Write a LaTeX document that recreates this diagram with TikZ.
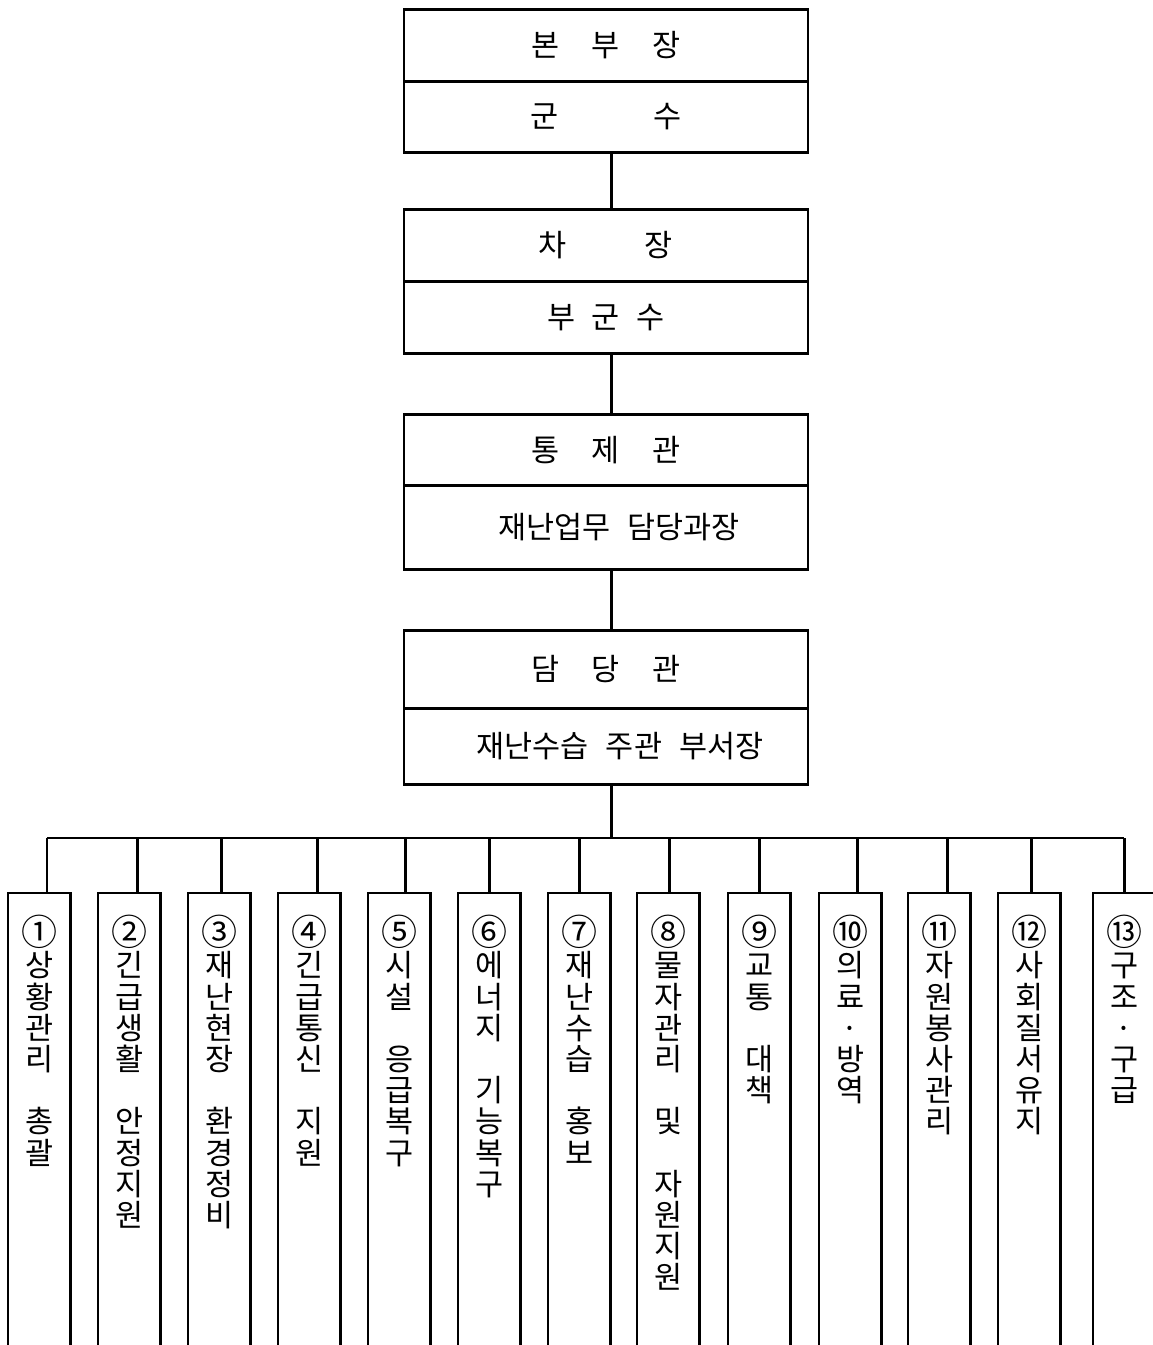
\documentclass[tikz,border=0pt]{standalone}
\usepackage{fontspec}
\newfontfamily\kr{Noto Sans CJK KR}
\newcommand\gap{\mbox{}}
\newcommand\cn[1]{{\fontsize{36}{31}\selectfont #1}}
\begin{document}
\begin{tikzpicture}[x=1pt,y=-1pt,line width=2.6pt,
  every node/.style={font=\kr\fontsize{30.5}{31.2}\selectfont,inner sep=0pt},
  half/.style={draw,minimum width=404pt,minimum height=#1,anchor=north},
  col/.style={minimum width=60pt,minimum height=470pt,anchor=north west},
  vtext/.style={align=center,anchor=north,yshift=-21pt}]
\useasboundingbox (0,0) rectangle (1153,1345);
% top boxes
\node[half=72pt] (b1t) at (606,8) {};
\node[half=71pt] (b1b) at (606,80) {};
\node[half=72pt] (b2t) at (606,208) {};
\node[half=72pt] (b2b) at (606,280) {};
\node[half=71pt] (b3t) at (606,413) {};
\node[half=84pt] (b3b) at (606,484) {};
\node[half=78pt] (b4t) at (606,629) {};
\node[half=76pt] (b4b) at (606,707) {};
\node (t1t) at (b1t.center) {본\hspace{32pt}부\hspace{32pt}장};
\node (t1b) at (b1b.center) {군\hspace{94pt}수};
\node (t2t) at (b2t.center) {차\hspace{78pt}장};
\node (t2b) at (b2b.center) {부\hspace{16pt}군\hspace{16pt}수};
\node (t3t) at (b3t.center) {통\hspace{32pt}제\hspace{32pt}관};
\node (t3b) at ([xshift=13pt]b3b.center) {재난업무\hspace{17pt}담당과장};
\node (t4t) at (b4t.center) {담\hspace{32pt}당\hspace{32pt}관};
\node (t4b) at ([xshift=14pt]b4b.center) {재난수습\hspace{17pt}주관\hspace{17pt}부서장};
% vertical connectors
\draw ([xshift=5.5pt]b1b.south) -- ([xshift=5.5pt]b2t.north);
\draw ([xshift=5.5pt]b2b.south) -- ([xshift=5.5pt]b3t.north);
\draw ([xshift=5.5pt]b3b.south) -- ([xshift=5.5pt]b4t.north);
\coordinate (bus) at (611.5,838);
\draw ([xshift=5.5pt]b4b.south) -- (bus);
% columns
\foreach \n/\x/\d in {1/8/7.5,2/98/8,3/188/2,4/278/8,5/368/6,6/458/0,7/548/0,8/637/1,9/728/0,10/819/7,11/908/8,12/998/2,13/1093/0}{
  \node[col] (c\n) at (\x,893) {};
  \draw[line cap=rect] (c\n.south west) -- (c\n.north west) -- (c\n.north east) -- (c\n.south east);
  \draw ([xshift=\d pt]c\n.north) -- ([xshift=\d pt]c\n.north |- bus);
}
\draw ([xshift=7.5pt]c1.north |- bus) -- ([xshift=0pt]c13.north |- bus);
% column texts
\node[vtext] (v1) at (c1.north) {\cn{①}\\상\\황\\관\\리\\\gap\\총\\괄};
\node[vtext] (v2) at (c2.north) {\cn{②}\\긴\\급\\생\\활\\\gap\\안\\정\\지\\원};
\node[vtext] (v3) at (c3.north) {\cn{③}\\재\\난\\현\\장\\\gap\\환\\경\\정\\비};
\node[vtext] (v4) at (c4.north) {\cn{④}\\긴\\급\\통\\신\\\gap\\지\\원};
\node[vtext] (v5) at (c5.north) {\cn{⑤}\\시\\설\\\gap\\응\\급\\복\\구};
\node[vtext] (v6) at (c6.north) {\cn{⑥}\\에\\너\\지\\\gap\\기\\능\\복\\구};
\node[vtext] (v7) at (c7.north) {\cn{⑦}\\재\\난\\수\\습\\\gap\\홍\\보};
\node[vtext] (v8) at (c8.north) {\cn{⑧}\\물\\자\\관\\리\\\gap\\및\\\gap\\자\\원\\지\\원};
\node[vtext] (v9) at (c9.north) {\cn{⑨}\\교\\통\\\gap\\대\\책};
\node[vtext] (v10) at (c10.north) {\cn{⑩}\\의\\료\\·\\방\\역};
\node[vtext] (v11) at (c11.north) {\cn{⑪}\\자\\원\\봉\\사\\관\\리};
\node[vtext] (v12) at (c12.north) {\cn{⑫}\\사\\회\\질\\서\\유\\지};
\node[vtext] (v13) at (c13.north) {\cn{⑬}\\구\\조\\·\\구\\급};
\end{tikzpicture}
\end{document}
